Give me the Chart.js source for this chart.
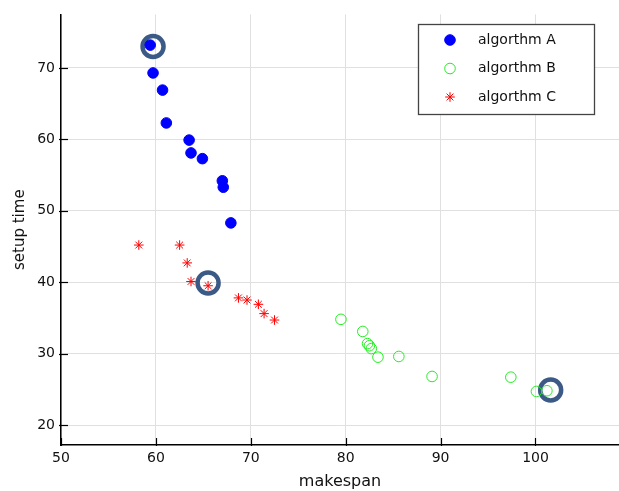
<!DOCTYPE html>
<html>
<head>
<meta charset="utf-8">
<script src="https://cdn.jsdelivr.net/npm/chart.js@4.4.0/dist/chart.umd.min.js"></script>
<style>
  html, body { margin: 0; padding: 0; background: #fff; overflow: hidden; }
  canvas { display: block; }
</style>
</head>
<body>
<canvas id="grafica" width="619" height="491"></canvas>
<script>
// algorithm A
const makespanA = [59.4, 59.7, 60.7, 61.1, 63.5, 63.7, 64.9, 67.0, 67.1, 67.9];
const setupA    = [73.2, 69.3, 66.9, 62.3, 59.9, 58.1, 57.3, 54.2, 53.3, 48.3];
// algorithm B
const makespanB = [79.5, 81.8, 82.3, 82.5, 82.7, 83.4, 85.6, 89.1, 97.4, 100.1, 101.2];
const setupB    = [34.8, 33.1, 31.4, 31.1, 30.7, 29.5, 29.6, 26.8, 26.7, 24.7, 24.8];
// algorithm C
const makespanC = [58.2, 62.5, 63.3, 63.7, 65.5, 68.7, 69.6, 70.8, 71.4, 72.5];
const setupC    = [45.2, 45.2, 42.7, 40.1, 39.5, 37.8, 37.5, 36.9, 35.6, 34.7];
// highlighted points
const makespanSel = [59.7, 65.5, 101.6];
const setupSel    = [73.0, 39.9, 24.9];

const xTicks = [50, 60, 70, 80, 90, 100];
const yTicks = [20, 30, 40, 50, 60, 70];

function puntos(xs, ys) {
  return xs.map((x, i) => ({ x: x, y: ys[i] }));
}

const fuente = "'DejaVu Sans', sans-serif";

// ticks hacia adentro
const ticksInternos = {
  id: 'ticksInternos',
  afterDraw(chart) {
    const ctx = chart.ctx;
    const xs = chart.scales.x, ys = chart.scales.y;
    const area = chart.chartArea;
    ctx.save();
    ctx.strokeStyle = '#000';
    ctx.lineWidth = 1.2;
    xTicks.forEach(v => {
      const px = Math.round(xs.getPixelForValue(v)) + 0.5;
      ctx.beginPath();
      ctx.moveTo(px, area.bottom + 1);
      ctx.lineTo(px, area.bottom - 7);
      ctx.stroke();
    });
    yTicks.forEach(v => {
      const py = Math.round(ys.getPixelForValue(v)) + 0.5;
      ctx.beginPath();
      ctx.moveTo(area.left - 2, py);
      ctx.lineTo(area.left + 7, py);
      ctx.stroke();
    });
    ctx.restore();
  }
};

function dibujarMarcador(ctx, ds, x, y) {
  const r = ds.pointRadius;
  ctx.beginPath();
  ctx.lineWidth = ds.borderWidth;
  ctx.strokeStyle = ds.borderColor;
  ctx.fillStyle = ds.backgroundColor;
  if (ds.pointStyle === 'star') {
    for (let k = 0; k < 4; k++) {
      const a = k * Math.PI / 4;
      ctx.moveTo(x - r * Math.sin(a), y - r * Math.cos(a));
      ctx.lineTo(x + r * Math.sin(a), y + r * Math.cos(a));
    }
    ctx.stroke();
  } else {
    ctx.arc(x, y, r, 0, Math.PI * 2);
    ctx.fill();
    ctx.stroke();
  }
}

// leyenda dentro del area
const leyenda = {
  id: 'leyenda',
  afterDraw(chart) {
    const ctx = chart.ctx;
    const bx = 418, by = 24, bw = 176, bh = 90;
    ctx.save();
    ctx.fillStyle = '#fff';
    ctx.fillRect(bx, by, bw, bh);
    ctx.strokeStyle = '#444';
    ctx.lineWidth = 1.3;
    ctx.strokeRect(bx + 0.5, by + 0.5, bw, bh);
    ctx.font = '14px ' + fuente;
    ctx.textBaseline = 'middle';
    chart.data.datasets.slice(0, 3).forEach((ds, i) => {
      const y = by + 16 + i * 28.5;
      dibujarMarcador(ctx, ds, 450, y);
      ctx.fillStyle = '#111';
      ctx.fillText(ds.label, 478, y);
    });
    ctx.restore();
  }
};

const ctx = document.getElementById('grafica').getContext('2d');
const chart = new Chart(ctx, {
  type: 'scatter',
  data: {
    datasets: [
      {
        label: 'algorthm A',
        data: puntos(makespanA, setupA),
        pointStyle: 'circle',
        pointRadius: 5.3,
        borderWidth: 1,
        borderColor: '#0000ff',
        backgroundColor: '#0000ff'
      },
      {
        label: 'algorthm B',
        data: puntos(makespanB, setupB),
        pointStyle: 'circle',
        pointRadius: 5.3,
        borderWidth: 1,
        borderColor: '#22ee22',
        backgroundColor: 'rgba(0,0,0,0)'
      },
      {
        label: 'algorthm C',
        data: puntos(makespanC, setupC),
        pointStyle: 'star',
        pointRadius: 4.8,
        borderWidth: 1,
        borderColor: '#ff0000',
        backgroundColor: '#ff0000'
      },
      {
        label: 'sel',
        data: puntos(makespanSel, setupSel),
        pointStyle: 'circle',
        pointRadius: 10.5,
        borderWidth: 4.5,
        borderColor: '#3b5b86',
        backgroundColor: 'rgba(0,0,0,0)'
      }
    ]
  },
  options: {
    responsive: false,
    animation: false,
    layout: { autoPadding: false, padding: { top: 12, right: 0, left: 0, bottom: 0 } },
    plugins: {
      legend: { display: false },
      tooltip: { enabled: false }
    },
    scales: {
      x: {
        type: 'linear',
        min: 50,
        max: 108.8,
        afterBuildTicks: (s) => { s.ticks = xTicks.map(v => ({ value: v })); },
        afterFit: (s) => { s.height = 46; },
        grid: { color: '#e0e0e0', lineWidth: 1, drawTicks: false },
        border: { color: '#000', width: 1.5 },
        ticks: { padding: 5, color: '#111', font: { family: fuente, size: 14 } },
        title: {
          display: true,
          text: 'makespan',
          color: '#111',
          padding: 0,
          font: { family: fuente, size: 16 }
        }
      },
      y: {
        type: 'linear',
        min: 17.2,
        max: 77.5,
        afterBuildTicks: (s) => { s.ticks = yTicks.map(v => ({ value: v })); },
        afterFit: (s) => { s.width = 61; },
        grid: { color: '#e0e0e0', lineWidth: 1, drawTicks: false },
        border: { color: '#000', width: 1.5 },
        ticks: { padding: 6, color: '#111', font: { family: fuente, size: 14 } },
        title: {
          display: true,
          text: 'setup time',
          color: '#111',
          padding: { top: 11, bottom: 0 },
          font: { family: fuente, size: 15 }
        }
      }
    }
  },
  plugins: [ticksInternos, leyenda]
});
</script>
</body>
</html>
